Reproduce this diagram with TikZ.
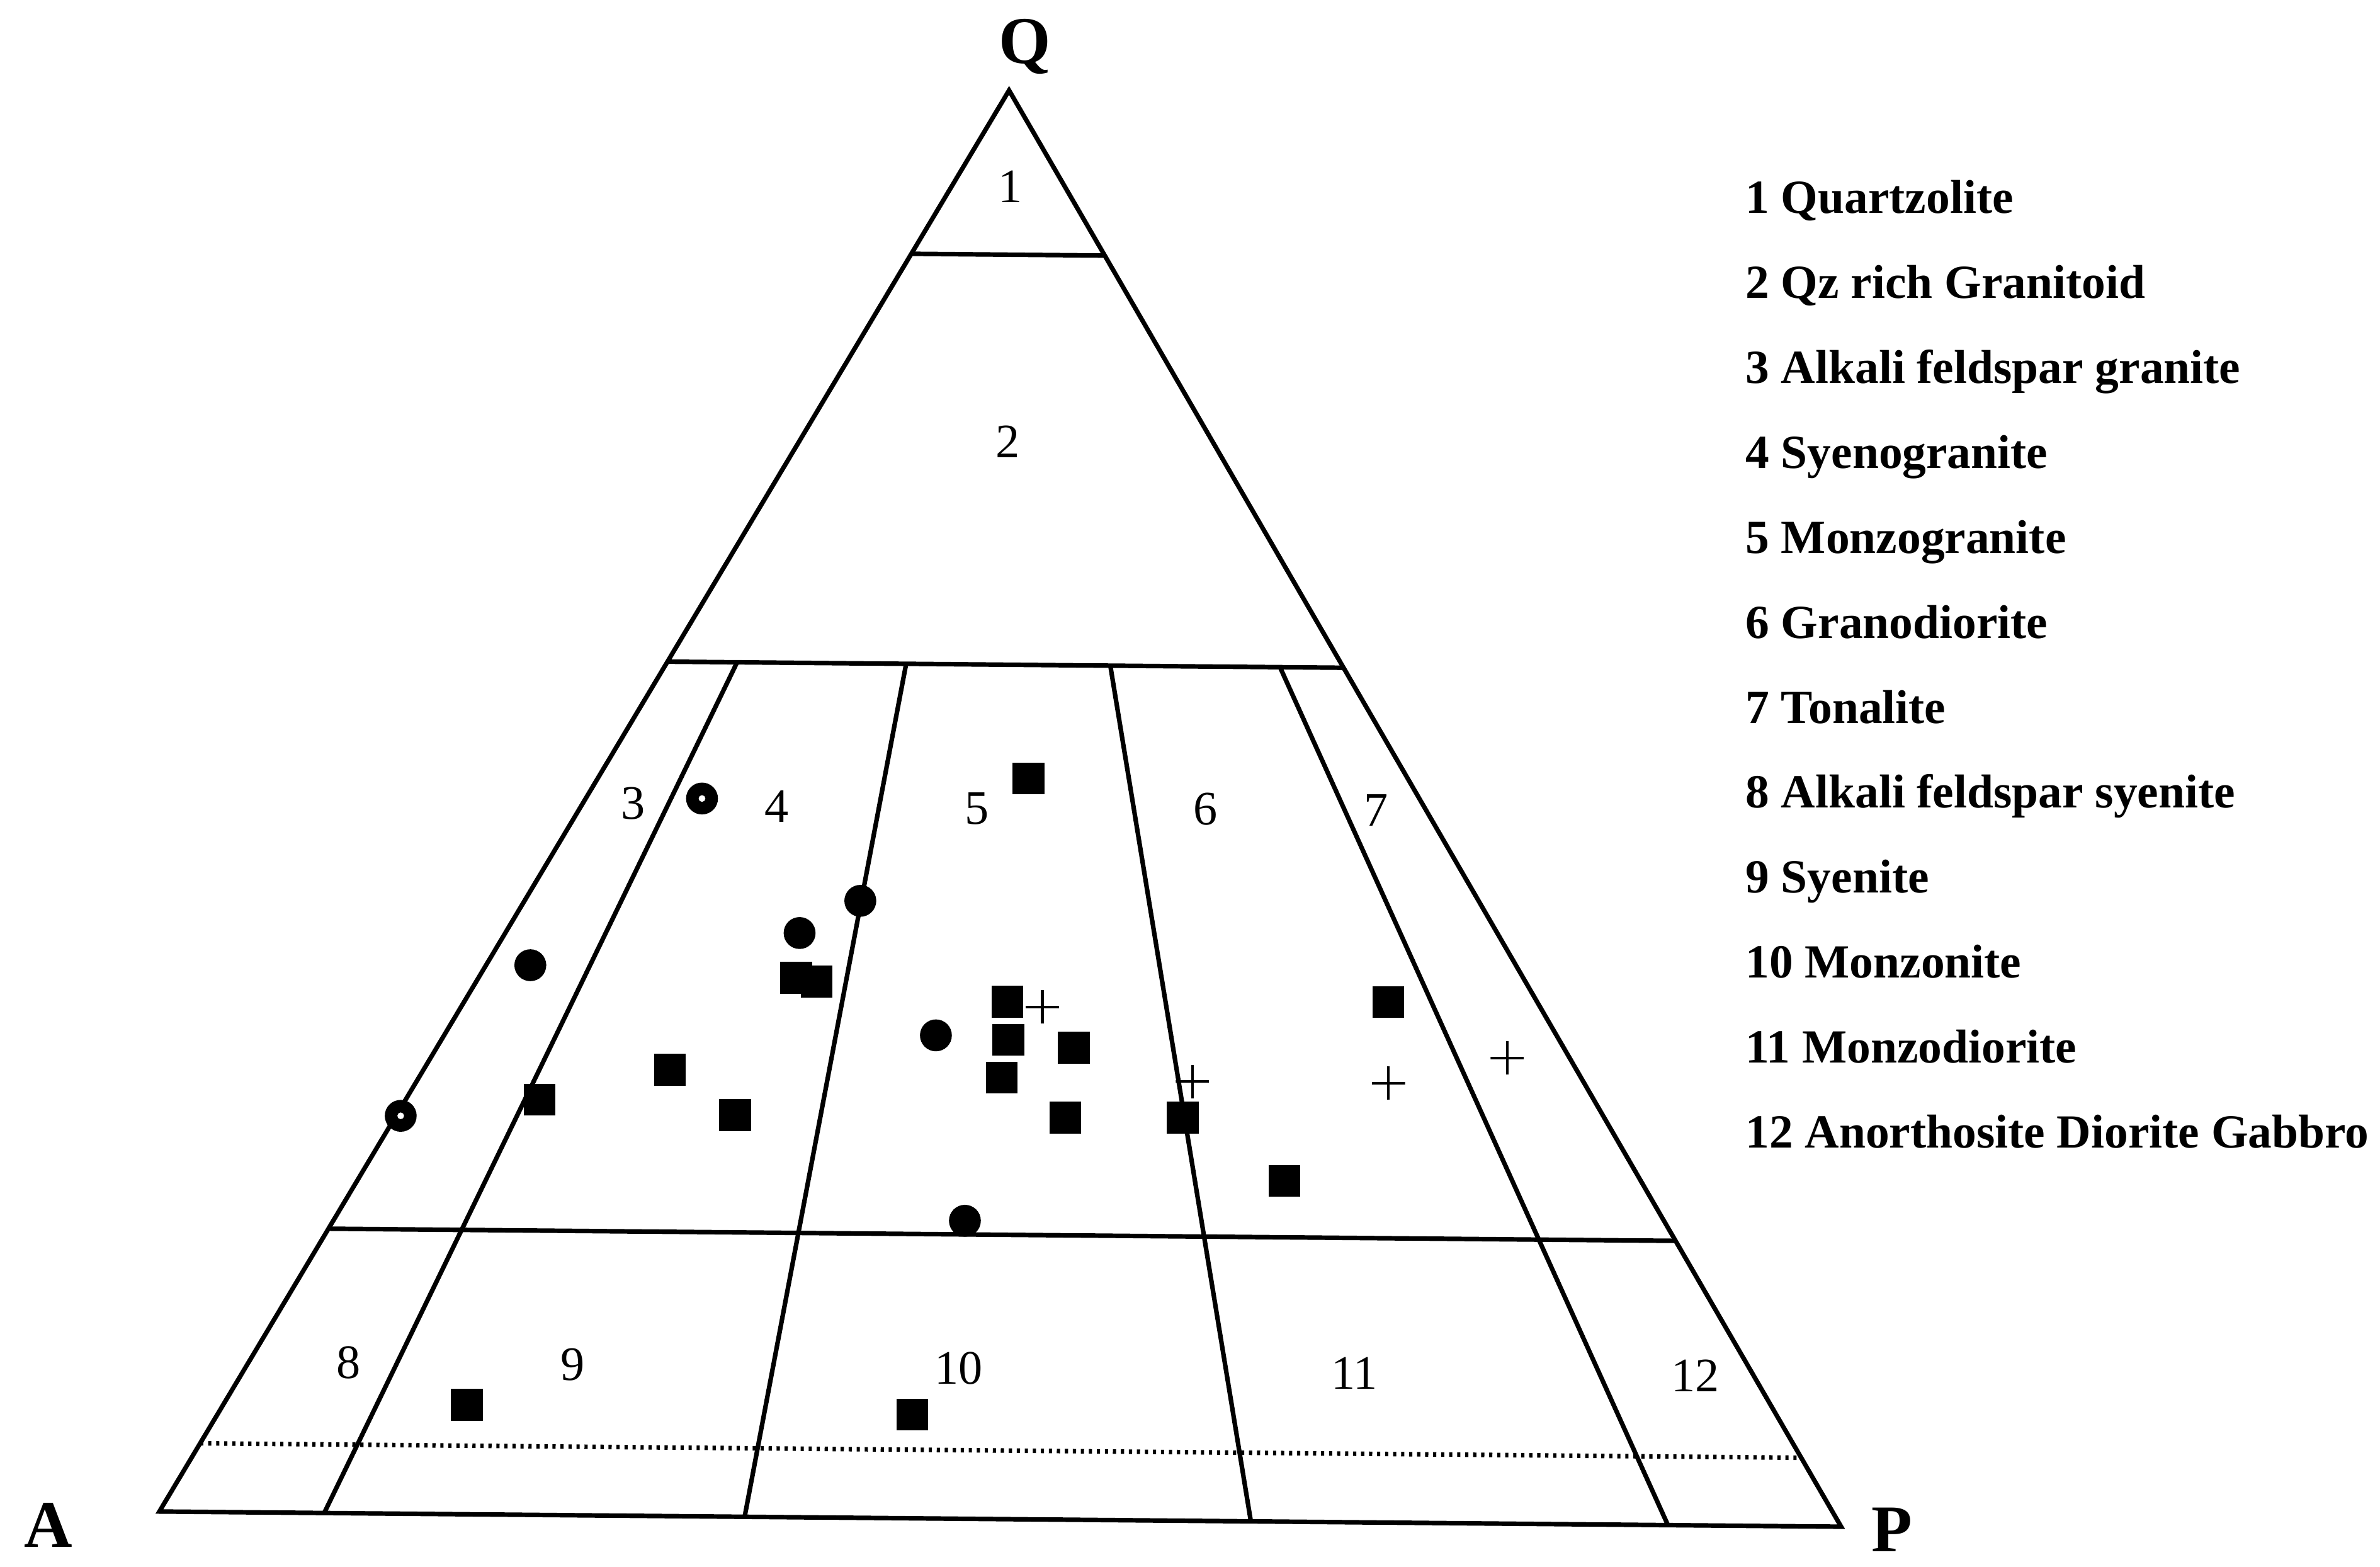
\documentclass[tikz,border=0pt]{standalone}
\usepackage{fontspec}
\setmainfont{Liberation Serif}
\usetikzlibrary{calc,positioning}

\begin{document}
\begin{tikzpicture}[x=0.01cm,y=-0.01cm,line width=0.85pt,every node/.style={inner sep=0pt,outer sep=0pt},
  sq/.style={rectangle,fill=black,minimum size=0.21cm},
  ci/.style={circle,fill=black,minimum size=0.21cm},
  cio/.style={ci,path picture={\fill[white] (path picture bounding box.center) circle (0.022cm);}},
  pl/.style={minimum size=0.22cm,path picture={\draw[line width=0.5pt] (path picture bounding box.north) -- (path picture bounding box.south) (path picture bounding box.west) -- (path picture bounding box.east);}},
  reg/.style={font=\fontsize{9}{10}\selectfont},
  vtx/.style={font=\fontsize{12.5}{14}\selectfont\bfseries},
  leg/.style={font=\fontsize{8.9}{10}\selectfont\bfseries,text height=0.22cm,text depth=0.07cm}]

\useasboundingbox (0,0) rectangle (1568,1032);

% corners
\coordinate (A) at (105,995.5);
\coordinate (P) at (1213,1005.5);
\coordinate (Q) at (664.8,59.5);

\coordinate (q90a) at ($(A)!0.885!(Q)$);
\coordinate (q90p) at ($(P)!0.885!(Q)$);
\coordinate (q60a) at ($(A)!0.598!(Q)$);
\coordinate (q60p) at ($(P)!0.598!(Q)$);
\coordinate (q20a) at ($(A)!0.199!(Q)$);
\coordinate (q20p) at ($(P)!0.199!(Q)$);
\coordinate (q5a) at ($(A)!0.048!(Q)$);
\coordinate (q5p) at ($(P)!0.048!(Q)$);

\coordinate (d1t) at ($(q60a)!0.103!(q60p)$);
\coordinate (d1b) at ($(A)!0.098!(P)$);
\coordinate (d2t) at ($(q60a)!0.353!(q60p)$);
\coordinate (d2b) at ($(A)!0.348!(P)$);
\coordinate (d3t) at ($(q60a)!0.655!(q60p)$);
\coordinate (d3b) at ($(A)!0.649!(P)$);
\coordinate (d4t) at ($(q60a)!0.906!(q60p)$);
\coordinate (d4b) at ($(A)!0.897!(P)$);

\draw (A) -- (P) -- (Q) -- cycle;
\draw (q90a) -- (q90p);
\draw (q60a) -- (q60p);
\draw (q20a) -- (q20p);
\draw[dash pattern=on 0.6pt off 0.9pt] (q5a) -- (q5p);
\draw (d1t) -- (d1b);
\draw (d2t) -- (d2b);
\draw (d3t) -- (d3b);
\draw (d4t) -- (d4b);

\node[vtx,anchor=base] (lq) at (675,41.5) {Q};
\node[vtx,anchor=base] (la) at (32,1018.8) {A};
\node[vtx,anchor=base] (lp) at (1246.5,1022) {P};

% fields
\node[reg] (r1) at (665.5,123) {1};
\node[reg] (r2) at (664,291) {2};
\node[reg] (r3) at (417.3,529) {3};
\node[reg] (r4) at (511.8,531.2) {4};
\node[reg] (r5) at (643.5,532.5) {5};
\node[reg] (r6) at (794.2,533) {6};
\node[reg] (r7) at (906.5,533.8) {7};
\node[reg] (r8) at (229.6,897.3) {8};
\node[reg] (r9) at (377.2,898.8) {9};
\node[reg] (r10) at (631.5,901.2) {10};
\node[reg] (r11) at (892.2,904.3) {11};
\node[reg] (r12) at (1116.9,905.9) {12};

% samples
\node[sq] (s1) at (677.7,512.7) {};
\node[sq] (s2) at (524.5,644) {};
\node[sq] (s3) at (538,646.5) {};
\node[sq] (s4) at (663.7,659.7) {};
\node[sq] (s5) at (664.4,684.8) {};
\node[sq] (s6) at (707.6,690) {};
\node[sq] (s7) at (660,709.8) {};
\node[sq] (s8) at (701.8,736.2) {};
\node[sq] (s9) at (779.3,736.2) {};
\node[sq] (s10) at (441.4,704.5) {};
\node[sq] (s11) at (355.5,724.3) {};
\node[sq] (s12) at (484.2,734.4) {};
\node[sq] (s13) at (914.7,659.9) {};
\node[sq] (s14) at (846.2,777.7) {};
\node[sq] (s15) at (307.5,925.3) {};
\node[sq] (s16) at (601.1,931.6) {};

\node[cio] (c1) at (462.5,525.9) {};
\node[ci] (c2) at (349.4,635.7) {};
\node[cio] (c3) at (264,734.9) {};
\node[ci] (c4) at (566.8,593.3) {};
\node[ci] (c5) at (526.8,614.5) {};
\node[ci] (c6) at (616.6,681.9) {};
\node[ci] (c7) at (635.7,804) {};

\node[pl] (p1) at (686.7,663.2) {};
\node[pl] (p2) at (785.6,712.3) {};
\node[pl] (p3) at (914.7,713.4) {};
\node[pl] (p4) at (993,696.8) {};

% legend
\node[leg,anchor=base west] (l1) at (1150,140.6) {1 Quartzolite};
\node[leg,below=0.269cm of l1.south west,anchor=north west] (l2) {2 Qz rich Granitoid};
\node[leg,below=0.269cm of l2.south west,anchor=north west] (l3) {3 Alkali feldspar granite};
\node[leg,below=0.269cm of l3.south west,anchor=north west] (l4) {4 Syenogranite};
\node[leg,below=0.269cm of l4.south west,anchor=north west] (l5) {5 Monzogranite};
\node[leg,below=0.269cm of l5.south west,anchor=north west] (l6) {6 Granodiorite};
\node[leg,below=0.269cm of l6.south west,anchor=north west] (l7) {7 Tonalite};
\node[leg,below=0.269cm of l7.south west,anchor=north west] (l8) {8 Alkali feldspar syenite};
\node[leg,below=0.269cm of l8.south west,anchor=north west] (l9) {9 Syenite};
\node[leg,below=0.269cm of l9.south west,anchor=north west] (l10) {10 Monzonite};
\node[leg,below=0.269cm of l10.south west,anchor=north west] (l11) {11 Monzodiorite};
\node[leg,below=0.269cm of l11.south west,anchor=north west] (l12) {12 Anorthosite Diorite Gabbro};

\end{tikzpicture}
\end{document}
